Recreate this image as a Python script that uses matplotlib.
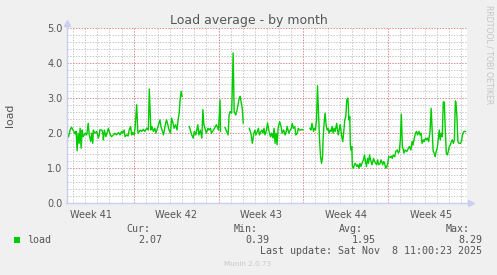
import numpy as np
import pandas as pd
import matplotlib
matplotlib.use("Agg")
import matplotlib.pyplot as plt

# Munin "load average - by month" (33 day window)
start = pd.Timestamp("2025-10-06 11:00")
window_days = 33

# sample time in hours after start, load value (nan = no data)
hours = [
    0, 4, 7, 10, 13, 17, 19, 21, 23, 25, 27, 29, 31, 33, 37, 40, 43, 45, 48, 50,
    52, 53, 56, 60, 63, 65, 66, 70, 72, 73, 75, 78, 80, 83, 86, 89, 93, 96, 99, 103,
    106, 109, 111, 114, 116, 119, 122, 124, 127, 129, 131, 134, 136, 139, 141, 142, 146, 149, 152, 155,
    159, 162, 164, 167, 169, 172, 175, 177, 179, 182, 185, 187, 190, 192, 195, 198, 200, 203, 206, 208,
    211, 213, 216, 219, 221, 223, 225, 227, 229, 235, 243, 245, 248, 251, 253, 256, 258, 260, 262, 265,
    268, 270, 272, 274, 277, 280, 282, 285, 287, 291, 297, 301, 304, 305, 309, 314, 317, 320, 322, 324,
    327, 330, 332, 335, 337, 339, 342, 344, 346, 348, 350, 356, 362, 365, 368, 371, 373, 375, 378, 380,
    382, 385, 387, 389, 391, 393, 396, 398, 401, 404, 406, 409, 411, 413, 415, 417, 419, 422, 425, 427,
    430, 433, 435, 437, 440, 443, 445, 447, 449, 452, 454, 457, 459, 461, 463, 466, 468, 475, 482, 484,
    486, 489, 491, 493, 495, 497, 499, 501, 503, 505, 507, 508, 510, 512, 514, 516, 518, 520, 522, 524,
    526, 528, 530, 532, 535, 538, 540, 542, 543, 545, 547, 549, 551, 553, 555, 557, 558, 559, 561, 562,
    563, 565, 566, 568, 570, 572, 575, 577, 579, 581, 583, 585, 588, 590, 592, 594, 596, 598, 600, 602,
    605, 608, 610, 612, 614, 616, 618, 621, 623, 626, 628, 630, 632, 634, 636, 638, 641, 643, 645, 647,
    650, 652, 655, 657, 659, 661, 663, 665, 667, 668, 670, 674, 677, 679, 682, 684, 686, 688, 691, 693,
    695, 698, 700, 702, 704, 707, 708, 711, 713, 715, 717, 720, 722, 724, 726, 728, 730, 732, 734, 736,
    738, 740, 742, 744, 746, 748, 750, 752, 754, 756, 758, 760, 762, 764, 766, 768, 770, 771, 773, 775,
    777, 780, 782, 784, 787, 790,
]
nan = np.nan
load = [
    2.02, 1.89, 2.09, 2.17, 2.09, 1.98, 2.05, 1.50, 2.00, 1.71, 2.14, 1.57, 2.09, 1.90, 2.00, 1.95, 2.28, 1.95, 1.76, 2.00,
    1.71, 2.09, 2.00, 2.05, 1.86, 1.95, 2.09, 2.09, 2.00, 1.81, 2.09, 1.90, 2.00, 2.14, 1.98, 1.90, 1.95, 2.00, 1.95, 2.02,
    1.95, 2.05, 2.00, 2.09, 1.90, 1.95, 1.92, 2.09, 2.19, 1.95, 2.02, 1.95, 2.19, 2.81, 2.09, 2.00, 2.09, 2.05, 2.11, 2.05,
    2.14, 2.09, 3.26, 2.09, 2.19, 2.05, 2.14, 2.00, 2.09, 2.24, 2.38, 2.19, 2.05, 1.95, 2.19, 2.38, 2.28, 2.09, 2.00, 2.43,
    2.28, 2.14, 2.24, 2.09, 2.38, 2.57, 2.95, 3.19, 3.05, nan, 2.19, 2.09, 1.95, 1.86, 2.05, 1.95, 2.09, 2.24, 1.95, 2.09,
    1.86, 2.67, 2.24, 2.14, 2.00, 2.14, 2.09, 2.14, 2.00, 2.09, 2.24, 2.09, 2.95, 2.05, nan, 2.16, 2.05, 1.95, 2.52, 2.62,
    2.57, 4.29, 2.62, 2.52, 2.62, 2.76, 3.00, 3.05, 2.86, 2.71, 2.29, nan, 2.14, 2.00, 1.71, 2.00, 2.09, 1.95, 2.05, 2.14,
    1.95, 2.05, 2.09, 2.00, 2.14, 1.95, 2.09, 2.29, 2.05, 1.90, 2.00, 1.86, 2.14, 1.71, 2.00, 1.67, 2.14, 2.33, 2.19, 2.00,
    2.09, 1.95, 2.05, 2.19, 2.00, 2.09, 2.14, 2.28, 2.14, 2.19, 1.95, 2.00, 2.14, 2.09, 2.09, 2.11, 2.09, nan, 2.14, 2.09,
    2.28, 2.05, 2.14, 2.09, 2.38, 3.35, 2.57, 1.81, 1.33, 1.14, 1.33, 1.81, 2.28, 2.57, 2.24, 2.09, 2.14, 2.00, 2.09, 2.05,
    2.19, 2.00, 2.14, 2.05, 2.28, 1.95, 2.09, 2.24, 2.14, 1.90, 1.76, 2.05, 2.38, 2.47, 2.95, 3.00, 2.81, 2.38, 2.47, 1.66,
    1.52, 1.62, 1.05, 1.00, 1.10, 1.14, 1.05, 1.10, 1.00, 1.14, 1.05, 1.14, 1.24, 1.38, 1.19, 1.05, 1.28, 1.14, 1.38, 1.24,
    1.10, 1.28, 1.19, 1.14, 1.10, 1.24, 1.10, 1.14, 1.24, 1.10, 1.19, 1.14, 1.00, 1.03, 1.14, 1.33, 1.31, 1.35, 1.28, 1.38,
    1.33, 1.48, 1.52, 1.43, 1.48, 1.81, 2.54, 1.62, 1.52, 1.43, 1.52, 1.48, 1.57, 1.62, 1.52, 1.76, 1.66, 1.81, 2.00, 2.05,
    1.95, 2.05, 1.95, 2.00, 1.71, 1.81, 1.76, 1.86, 1.81, 1.86, 1.76, 2.09, 2.71, 2.09, 1.48, 1.43, 1.33, 1.48, 1.57, 1.81,
    2.09, 1.81, 2.00, 1.90, 2.89, 2.89, 2.09, 1.43, 1.38, 1.48, 1.62, 1.66, 1.76, 1.81, 1.71, 1.81, 2.92, 2.89, 2.47, 1.76,
    1.71, 1.71, 1.76, 1.95, 2.05, 2.05,
]

week_labels = ["Week 41", "Week 42", "Week 43", "Week 44", "Week 45"]
y_ticks = [0.0, 1.0, 2.0, 3.0, 4.0, 5.0]

legend_name = "load"
stat_names = ["Cur:", "Min:", "Avg:", "Max:"]
stat_values = ["2.07", "0.39", "1.95", "8.29"]
last_update = "Last update: Sat Nov  8 11:00:23 2025"

W, H = 497, 275
BG = "#F0F0F0"
GREEN = "#00CC00"
TXT = "#555555"
MAJOR = "#E08C8C"
MINOR = "#C8C8C8"
AXIS = "#C9CFF0"

times = start + pd.to_timedelta(hours, unit="h")
end = start + pd.Timedelta(days=window_days)

fig = plt.figure(figsize=(W / 100, H / 100), dpi=100, facecolor=BG)
ax = fig.add_axes([66.5 / W, 1 - 203.3 / H, 400 / W, 175.3 / H])
ax.set_facecolor("white")

# grid: days / weeks on x, 0.2 / 1.0 on y (dotted)
days = pd.date_range("2025-10-07", end, freq="D")
weeks = pd.date_range("2025-10-12", end, freq="7D")
minor_y = [v for v in np.arange(0.2, 5.0, 0.2) if abs(v - round(v)) > 1e-6]
grid_kw = dict(lw=0.72, dashes=(1.4, 1.4))
for d in days:
    if d in weeks:
        ax.axvline(d, color=MAJOR, zorder=2, **grid_kw)
    else:
        ax.axvline(d, color=MINOR, zorder=1, **grid_kw)
for v in minor_y:
    ax.axhline(v, color=MINOR, zorder=1, **grid_kw)
for v in y_ticks[1:]:
    ax.axhline(v, color=MAJOR, zorder=2, **grid_kw)

ax.plot(times, load, color=GREEN, lw=1.0, zorder=3)

ax.set_xlim(start, end)
ax.set_ylim(0, 5)

mids = weeks - pd.Timedelta(hours=84)
mids = mids.append(pd.DatetimeIndex([weeks[-1] + pd.Timedelta(hours=84)]))
ax.set_xticks(mids, week_labels)
ax.set_yticks(y_ticks, [f"{v:.1f}" for v in y_ticks])
ax.tick_params(length=0, labelsize=7, labelcolor=TXT)
ax.tick_params(axis="x", pad=4.5)
ax.tick_params(axis="y", pad=3)

for s in ["top", "right"]:
    ax.spines[s].set_visible(False)
for s in ["left", "bottom"]:
    ax.spines[s].set_color(AXIS)
    ax.spines[s].set_linewidth(1.0)
    ax.spines[s].set_zorder(4)

# axis extensions with arrows
ax.plot([0, 0], [1, 1.03], color=AXIS, lw=1.0, transform=ax.transAxes, clip_on=False)
ax.plot([0], [1.03], marker="^", ms=4, color=AXIS, transform=ax.transAxes, clip_on=False)
ax.plot([1, 1.01], [0, 0], color=AXIS, lw=1.0, transform=ax.transAxes, clip_on=False)
ax.plot([1.01], [0], marker=">", ms=4, color=AXIS, transform=ax.transAxes, clip_on=False)

ax.set_ylabel("load", fontsize=7.8, color=TXT)
ax.yaxis.set_label_coords(-52 / 400, 0.5)

def fx(px):
    return px / W

def fy(py):
    return 1 - py / H

fig.text(fx(248.5), fy(24), "Load average - by month", ha="center", va="baseline",
         fontsize=9, color=TXT)
fig.text(fx(489), fy(55), "RRDTOOL / TOBI OETIKER", rotation=270, ha="center", va="center",
         fontsize=5.6, color="#C4C4C4")

# legend block
mono = "DejaVu Sans Mono"
fig.patches.append(plt.Rectangle((fx(14), fy(242.5)), 6 / W, 6 / H, transform=fig.transFigure,
                                 color=GREEN, lw=0))
fig.text(fx(27), fy(243), legend_name, family=mono, fontsize=7.2, color=TXT, va="baseline")
name_ends = [150.7, 257.7, 362.7, 470]
value_ends = [162.7, 269.3, 375.7, 482.3]
for n, xe in zip(stat_names, name_ends):
    fig.text(fx(xe), fy(232), n, family=mono, fontsize=7.2, color=TXT, ha="right", va="baseline")
for v, xe in zip(stat_values, value_ends):
    fig.text(fx(xe), fy(243), v, family=mono, fontsize=7.2, color=TXT, ha="right", va="baseline")
fig.text(fx(482.3), fy(254.4), last_update, family=mono, fontsize=7.2, color=TXT,
         ha="right", va="baseline")
fig.text(fx(248), fy(264), "Munin 2.0.73", fontsize=5.2, color="#C8C8C8", ha="center", va="center")

fig.savefig("out.png", dpi=100, facecolor=BG)
